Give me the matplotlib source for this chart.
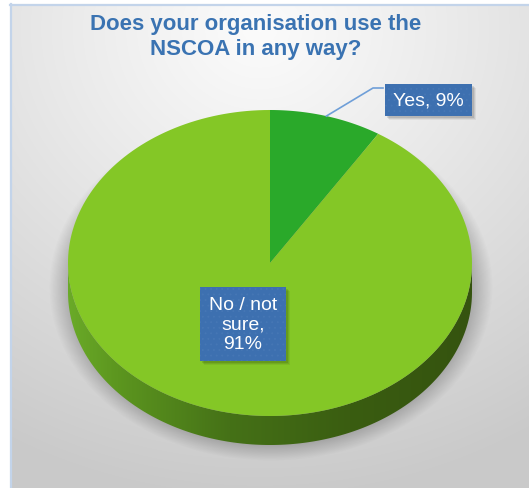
import numpy as np
import matplotlib
matplotlib.use("Agg")
import matplotlib.pyplot as plt
from matplotlib.patches import Polygon, Rectangle
from matplotlib.colors import LinearSegmentedColormap

plt.rcParams['font.family'] = ['Liberation Sans', 'DejaVu Sans']
plt.rcParams['hatch.linewidth'] = 0.6

# dados do grafico
title = "Does your organisation use the\nNSCOA in any way?"
labels = ["Yes", "No / not\nsure"]
values = [9, 91]
top_colors = ["#2aa92a", "#84c726"]

W, H = 529, 489
fig = plt.figure(figsize=(W / 100, H / 100), dpi=100)
ax = fig.add_axes([0, 0, 1, 1])
ax.set_xlim(0, W)
ax.set_ylim(H, 0)
ax.axis('off')

# fundo com gradiente radial
yy, xx = np.mgrid[0:H, 0:W] + 0.5
d = np.sqrt(((xx - 260) / 520.0) ** 2 + ((yy - 30) / 470.0) ** 2)
d = np.clip(d, 0, 1)
c_in = np.array([0.985, 0.985, 0.985])
c_out = np.array([0.79, 0.79, 0.79])
bg = c_in + (c_out - c_in) * d[..., None] ** 1.1
bg[(xx < 10) | (yy < 5)] = 1.0
ax.imshow(bg, extent=[0, W, H, 0], zorder=0, interpolation='bilinear')
ax.plot([10.5, 10.5], [5, H], color="#c3d4ea", lw=1.6, zorder=1)
ax.plot([10, W], [5.5, 5.5], color="#c3d4ea", lw=1.6, zorder=1)

# geometria da pizza 3D
cx, cy = 270, 264
A, B = 202, 153
depth = 29

# sombra suave embaixo
sx, sy, sa, sb = 271, 288, 222, 174
r = np.sqrt(((xx - sx) / sa) ** 2 + ((yy - sy) / sb) ** 2)
alpha = np.clip((1.0 - r) / 0.14, 0, 1) * 0.5
shadow = np.zeros((H, W, 4))
shadow[..., :3] = 0.3
shadow[..., 3] = alpha
ax.imshow(shadow, extent=[0, W, H, 0], zorder=2, interpolation='bilinear')


def arc(t1, t2, dy=0, n=200):
    t = np.radians(np.linspace(t1, t2, n))
    return np.column_stack([cx + A * np.cos(t), cy - B * np.sin(t) + dy])


# lateral (metade da frente)
front = arc(180, 360)
side_pts = np.vstack([front, arc(360, 180, dy=depth)])
side = Polygon(side_pts, closed=True, facecolor='none', edgecolor='none', zorder=3)
ax.add_patch(side)
side_cmap = LinearSegmentedColormap.from_list(
    "lado", [(0, "#6aaa28"), (0.12, "#5c961f"), (0.4, "#457117"),
             (0.7, "#3a5d11"), (1.0, "#35530f")])
grad = side_cmap(np.linspace(0, 1, 400))[None, :, :3]
im = ax.imshow(grad, extent=[cx - A, cx + A, cy + B + depth + 2, cy - 2],
               aspect='auto', zorder=3, interpolation='bilinear')
im.set_clip_path(side)

# fatias do topo (sentido horario a partir das 12h)
total = float(sum(values))
start = 90.0
mids = []
for v, col in zip(values, top_colors):
    sweep = 360.0 * v / total
    t1, t2 = start - sweep, start
    pts = np.vstack([[cx, cy], arc(t1, t2)])
    ax.add_patch(Polygon(pts, closed=True, facecolor=col, edgecolor='none', zorder=4))
    mids.append(np.radians((t1 + t2) / 2))
    start = t1

box_color = "#3d70b0"
label_fs = 14


def label_box(x, y, text, pad):
    t = ax.text(x, y, text, ha='center', va='center', color='white',
                fontsize=label_fs, linespacing=1.2, zorder=7,
                bbox=dict(boxstyle=f'square,pad={pad}', facecolor=box_color,
                          edgecolor='#4677b5', hatch='...', lw=0.0))
    # sombra da caixa
    fig.canvas.draw()
    bb = t.get_bbox_patch().get_window_extent().transformed(ax.transData.inverted())
    x0, x1 = sorted([bb.x0, bb.x1])
    y0, y1 = sorted([bb.y0, bb.y1])
    for k, a in [(4, 0.06), (3, 0.08), (2, 0.10)]:
        ax.add_patch(Rectangle((x0 + k, y0 + k), x1 - x0, y1 - y0,
                               facecolor='black', alpha=a, edgecolor='none', zorder=6))


# rotulo "Yes" com linha guia
m = mids[0]
ax_pt = (cx + A * np.cos(m), cy - B * np.sin(m))
elbow = (373, 89)
ax.plot([ax_pt[0], elbow[0], 383], [ax_pt[1], elbow[1], elbow[1]],
        color="#6f9fd8", lw=1.2, zorder=5)
label_box(428.5, 101, f"{labels[0]}, {values[0]}%", 0.4)

# rotulo "No / not sure" dentro da fatia
m = mids[1]
label_box(cx + 0.41 * A * np.cos(m) - 4, cy - 0.41 * B * np.sin(m) + 1,
          f"{labels[1]},\n{values[1]}%", 0.45)

ax.text(256, 37, title, ha='center', va='center', color="#3a73b2",
        fontsize=16, fontweight='bold', linespacing=1.2, zorder=5)

fig.savefig("out.png", dpi=100)
